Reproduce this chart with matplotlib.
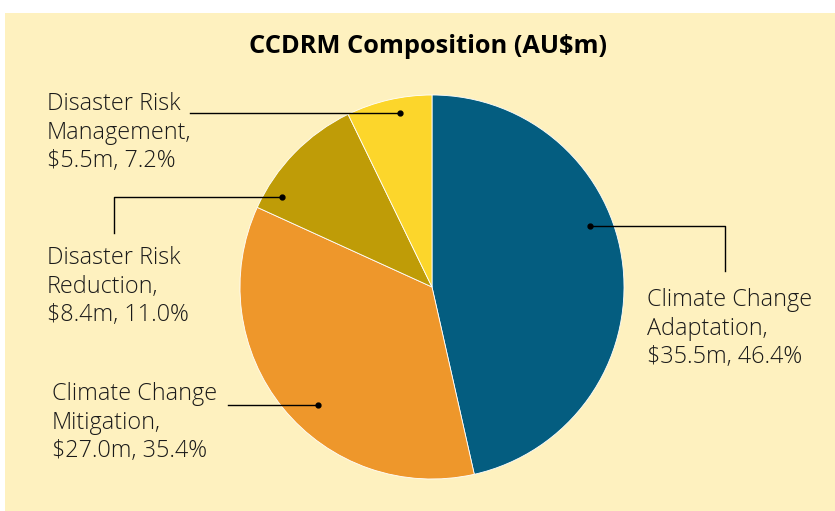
import numpy as np
import matplotlib
matplotlib.use("Agg")
import matplotlib.pyplot as plt

labels = ["Climate Change\nAdaptation,\n$35.5m, 46.4%",
          "Climate Change\nMitigation,\n$27.0m, 35.4%",
          "Disaster Risk\nReduction,\n$8.4m, 11.0%",
          "Disaster Risk\nManagement,\n$5.5m, 7.2%"]
values = [35.5, 27.0, 8.4, 5.5]
colors = ["#045d80", "#ee972b", "#bf9c07", "#fcd62b"]
title = "CCDRM Composition (AU$m)"

bg = "#fef1bf"
W, H = 835, 511

fig = plt.figure(figsize=(W / 100, H / 100), dpi=100)
fig.patch.set_facecolor("white")
ax = fig.add_axes([0, 0, 1, 1])

# yellow panel
ax.add_patch(plt.Rectangle((5, 0), W - 5, H - 13, facecolor=bg, edgecolor="none", zorder=0))

cx, cy, r = 432, H - 287, 192
ax.pie(values, colors=colors, startangle=90, counterclock=False,
       center=(cx, cy), radius=r, frame=True,
       wedgeprops=dict(edgecolor="white", linewidth=0.6))
ax.set_xlim(0, W)
ax.set_ylim(0, H)
ax.set_aspect("equal")
ax.axis("off")

font = "Open Sans"
ax.text(428, H - 46, title, ha="center", va="center", fontsize=18.3,
        fontweight="bold", family=font)

# leader lines: (dot, path points), text anchor
leaders = [
    ([(590, 226), (725, 226), (725, 271)], (647, 288)),
    ([(318, 405), (228, 405)], (52, 382)),
    ([(282, 197), (114, 197), (114, 233)], (47, 246)),
    ([(400, 113), (190, 113)], (47, 92)),
]
for lab, (path, (tx, ty)) in zip(labels, leaders):
    xs = [p[0] for p in path]
    ys = [H - p[1] for p in path]
    ax.plot(xs, ys, color="black", lw=1.0, zorder=5)
    ax.plot(xs[0], ys[0], "o", color="black", ms=3.5, zorder=6)
    ax.text(tx, H - ty, lab, ha="left", va="top", fontsize=16.8,
            family=font, fontweight="light", color="#1a1a1a", linespacing=1.26)

fig.savefig("out.png", dpi=100, facecolor=fig.get_facecolor())
